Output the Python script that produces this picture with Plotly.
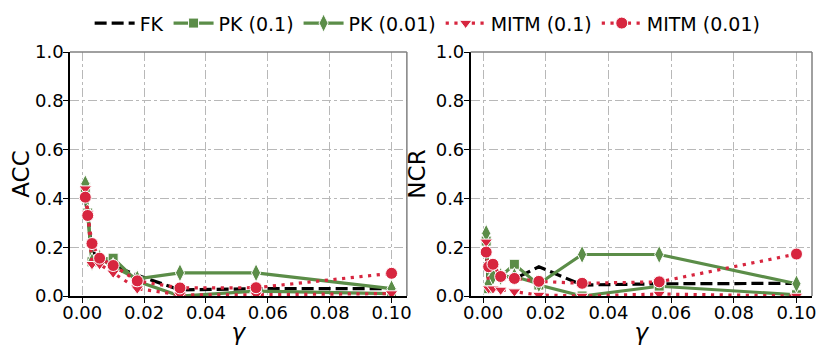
import plotly.graph_objects as go

# gamma values (log-spaced 1e-3 .. 1e-1)
gamma = [0.001, 0.00178, 0.00316, 0.00562, 0.01, 0.0178, 0.0316, 0.0562, 0.1]

# ACC (left panel)
acc_fk = [0.40, 0.33, 0.18, 0.16, 0.125, 0.085, 0.025, 0.03, 0.03]
acc_pk_01 = [0.445, 0.34, 0.14, 0.15, 0.155, 0.06, 0.0, 0.02, 0.01]
acc_pk_001 = [0.46, 0.34, 0.14, 0.155, 0.12, 0.07, 0.095, 0.095, 0.03]
acc_mitm_01 = [0.44, 0.34, 0.13, 0.13, 0.095, 0.03, 0.005, 0.005, 0.01]
acc_mitm_001 = [0.405, 0.33, 0.215, 0.155, 0.125, 0.062, 0.033, 0.034, 0.093]

# NCR (right panel)
ncr_fk = [0.19, 0.03, 0.10, 0.09, 0.07, 0.12, 0.045, 0.05, 0.052]
ncr_pk_01 = [0.225, 0.03, 0.08, 0.08, 0.13, 0.045, 0.0, 0.04, 0.005]
ncr_pk_001 = [0.257, 0.05, 0.08, 0.08, 0.08, 0.05, 0.17, 0.17, 0.05]
ncr_mitm_01 = [0.222, 0.03, 0.03, 0.025, 0.018, 0.004, 0.0, 0.008, 0.0]
ncr_mitm_001 = [0.18, 0.12, 0.13, 0.08, 0.072, 0.06, 0.052, 0.058, 0.172]

x_ticks = [0.0, 0.02, 0.04, 0.06, 0.08, 0.10]
y_ticks = [0.0, 0.2, 0.4, 0.6, 0.8, 1.0]

GREEN = '#5b8d48'
RED = '#d7263f'
FONT = 'DejaVu Sans'

styles = [
    ('FK', dict(color='black', width=3.2, dash='12px,5px'), None),
    ('PK (0.1)', dict(color=GREEN, width=3.2), dict(symbol='square', size=10, color=GREEN, line=dict(color='white', width=1))),
    ('PK (0.01)', dict(color=GREEN, width=3.2), dict(symbol='diamond-tall', size=13, color=GREEN, line=dict(color='white', width=1))),
    ('MITM (0.1)', dict(color=RED, width=3.2, dash='3.2px,5.5px'), dict(symbol='triangle-down', size=11, color=RED, line=dict(color='white', width=1))),
    ('MITM (0.01)', dict(color=RED, width=3.2, dash='3.2px,5.5px'), dict(symbol='circle', size=12, color=RED, line=dict(color='white', width=1))),
]

left = [acc_fk, acc_pk_01, acc_pk_001, acc_mitm_01, acc_mitm_001]
right = [ncr_fk, ncr_pk_01, ncr_pk_001, ncr_mitm_01, ncr_mitm_001]

fig = go.Figure()
for panel, (series, xa, ya) in enumerate([(left, 'x', 'y'), (right, 'x2', 'y2')]):
    for (name, line, marker), ys in zip(styles, series):
        fig.add_trace(go.Scatter(
            x=gamma, y=ys, name=name, xaxis=xa, yaxis=ya,
            mode='lines' if marker is None else 'lines+markers',
            line=line, marker=marker,
            showlegend=(panel == 0),
        ))

axis_common = dict(
    showgrid=True, gridcolor='#b8b8b8', gridwidth=1, griddash='dashdot',
    showline=True, linecolor='black', linewidth=1.5,
    ticks='outside', ticklen=5, tickcolor='black', tickwidth=1.2,
    tickfont=dict(family=FONT, size=18, color='black'),
    zeroline=False,
)

xr = [-0.00395, 0.10495]
fig.update_layout(
    width=830, height=355,
    margin=dict(l=62, r=26, t=44, b=67, autoexpand=False),
    plot_bgcolor='white', paper_bgcolor='white',
    font=dict(family=FONT, color='black'),
    xaxis=dict(domain=[0, 0.454], range=xr, tickvals=x_ticks, tickformat='.2f', ticklabelstandoff=-5,
               title=dict(text='<i>γ</i>', font=dict(size=23), standoff=2), anchor='y', **axis_common),
    yaxis=dict(domain=[0, 1], range=[0, 1.0], tickvals=y_ticks, tickformat='.1f', ticklabelstandoff=-4,
               title=dict(text='ACC', font=dict(size=23), standoff=4), anchor='x', **axis_common),
    xaxis2=dict(domain=[0.540, 1], range=xr, tickvals=x_ticks, tickformat='.2f', ticklabelstandoff=-5,
                title=dict(text='<i>γ</i>', font=dict(size=23), standoff=2), anchor='y2', **axis_common),
    yaxis2=dict(domain=[0, 1], range=[0, 1.0], tickvals=y_ticks, tickformat='.1f', ticklabelstandoff=-4,
                title=dict(text='NCR', font=dict(size=23), standoff=4), anchor='x2', **axis_common),
    legend=dict(orientation='h', x=0.482, xanchor='center',
                y=1.04, yanchor='bottom',
                font=dict(family=FONT, size=19), bgcolor='rgba(0,0,0,0)',
                itemwidth=40, tracegroupgap=0),
)

# top / right spines in grey
for xr_, yr_ in [('x', 'y'), ('x2', 'y2')]:
    fig.add_shape(type='line', xref=f'{xr_} domain', yref=f'{yr_} domain', x0=0, x1=1, y0=1, y1=1,
                  line=dict(color='#808080', width=1.5))
    fig.add_shape(type='line', xref=f'{xr_} domain', yref=f'{yr_} domain', x0=1, x1=1, y0=0, y1=1,
                  line=dict(color='#808080', width=1.5))

fig.write_html('out.html')
